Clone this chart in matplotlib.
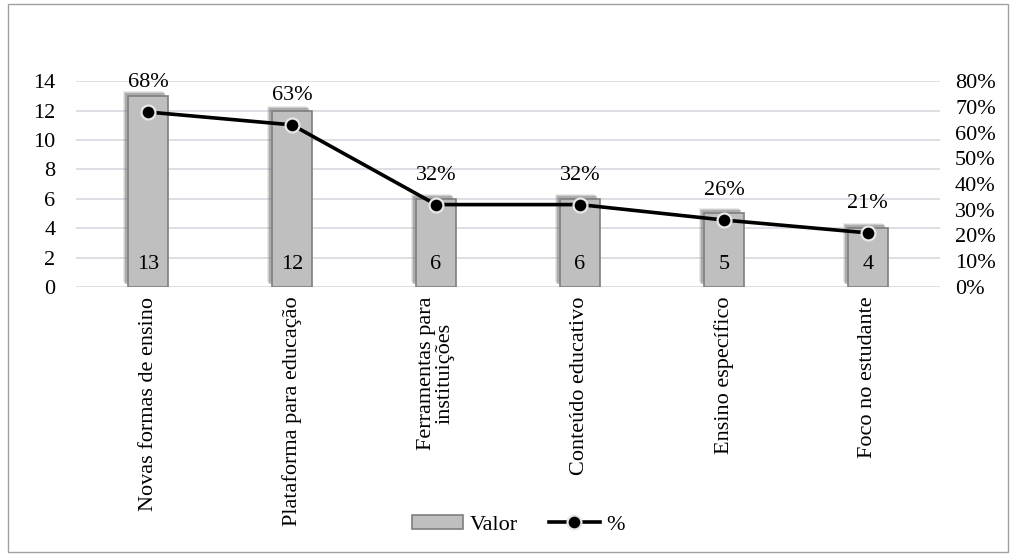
import matplotlib.pyplot as plt
import matplotlib.transforms as mtransforms
from matplotlib.patches import Rectangle
import numpy as np

plt.rcParams.update({
    'font.family': 'Liberation Serif',
    'font.size': 16,
})

categorias = ['Novas formas de ensino', 'Plataforma para educação',
              'Ferramentas para\ninstituições', 'Conteúdo educativo',
              'Ensino específico', 'Foco no estudante']
valor = [13, 12, 6, 6, 5, 4]
pct = [68, 63, 32, 32, 26, 21]

bar_color = '#bfbfbf'
edge_color = '#7f7f7f'
grid_color = '#d9dde3'

fig = plt.figure(figsize=(10.16, 5.56), dpi=100)
ax = fig.add_axes([0.075, 0.484, 0.85, 0.37])
ax2 = ax.twinx()

x = np.arange(len(categorias))
w = 0.28

# shadow behind bars (a few soft layers)
for off, al in [(5, 0.15), (4, 0.25), (3, 0.4)]:
    shadow = mtransforms.offset_copy(ax.transData, fig=fig, x=-off, y=off, units='dots')
    ax.bar(x, valor, width=w, color='#7a7a7a', alpha=al, transform=shadow, zorder=1)
ax.bar(x, valor, width=w, color=bar_color, edgecolor=edge_color, linewidth=1.2,
       zorder=2, label='Valor')
for xi, v in zip(x, valor):
    ax.text(xi, 1.5, str(v), ha='center', va='center', fontsize=16, zorder=3)

ax.set_ylim(0, 14)
ax.set_yticks(range(0, 15, 2))
ax.set_xlim(-0.5, len(categorias) - 0.5)
ax.yaxis.grid(True, color=grid_color, linewidth=1.3)
ax.set_axisbelow(True)
ax.set_xticks(x)
ax.set_xticklabels(categorias, rotation=90, va='top', ha='center',
                   fontsize=16, linespacing=0.95)
ax.tick_params(axis='x', length=0, pad=7)
ax.tick_params(axis='y', length=0, pad=15)

ax2.plot(x, pct, color='black', linewidth=2.6, marker='o', markersize=10,
         markerfacecolor='black', markeredgecolor='#e8e8e8', markeredgewidth=1.6,
         zorder=5, label='%')
for xi, p in zip(x, pct):
    ax2.annotate(f'{p}%', (xi, p), xytext=(0, 21), textcoords='offset points',
                 ha='center', va='center', fontsize=16)
ax2.set_ylim(0, 80)
ax2.set_yticks(range(0, 81, 10))
ax2.set_yticklabels([f'{t}%' for t in range(0, 81, 10)])
ax2.tick_params(length=0, pad=11)

for a in (ax, ax2):
    for s in a.spines.values():
        s.set_visible(False)

h1, l1 = ax.get_legend_handles_labels()
h2, l2 = ax2.get_legend_handles_labels()
fig.legend(h1 + h2, l1 + l2, loc='center', bbox_to_anchor=(0.51, 0.056), ncol=2,
           frameon=False, fontsize=16, handlelength=2.3, handleheight=0.6,
           columnspacing=1.4, handletextpad=0.3)

fig.patches.append(Rectangle((0.008, 0.008), 0.984, 0.984, transform=fig.transFigure,
                             fill=False, edgecolor='#a0a0a0', linewidth=1.0))

fig.savefig('out.png', dpi=100)
